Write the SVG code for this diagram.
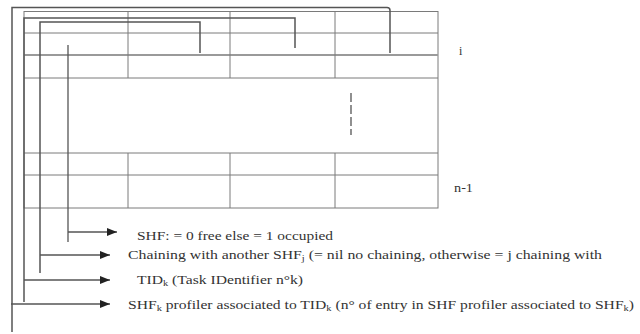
<svg xmlns="http://www.w3.org/2000/svg" width="640" height="334" viewBox="0 0 640 334">
<style>
.grid{stroke:#7a7a7a;stroke-width:1;fill:none}
.dbl{stroke:#9a9a9a;stroke-width:2.2;fill:none}
.br{stroke:#555;stroke-width:1.5;fill:none}
.ln{stroke:#555;stroke-width:1.3;fill:none}
.t{font-family:"Liberation Serif","Times New Roman",serif;font-size:12px;fill:#333}
.s{font-size:8px}
</style>
<defs>
<marker id="ah" viewBox="0 0 10 8" refX="10" refY="4" markerWidth="10" markerHeight="8" markerUnits="userSpaceOnUse" orient="auto">
<path d="M0,0 L10,4 L0,8 Z" fill="#222"/>
</marker>
</defs>
<rect width="640" height="334" fill="#fff"/>
<g id="table">
<rect class="grid" x="24" y="11.5" width="414" height="196.5"/>
<line class="grid" x1="24" y1="33" x2="438" y2="33"/>
<line class="dbl" x1="24" y1="55" x2="438" y2="55"/>
<line class="grid" x1="24" y1="78" x2="438" y2="78"/>
<line class="grid" x1="24" y1="153" x2="438" y2="153"/>
<line class="grid" x1="24" y1="175" x2="438" y2="175"/>
<line class="grid" x1="128" y1="11.5" x2="128" y2="78"/>
<line class="grid" x1="230" y1="11.5" x2="230" y2="78"/>
<line class="grid" x1="335" y1="11.5" x2="335" y2="78"/>
<line class="grid" x1="128" y1="153" x2="128" y2="208"/>
<line class="grid" x1="230" y1="153" x2="230" y2="208"/>
<line class="grid" x1="335" y1="153" x2="335" y2="208"/>
<line x1="351" y1="93" x2="351" y2="135" stroke="#555" stroke-width="1.3" stroke-dasharray="9,3"/>
</g>
<g id="row-labels">
<text class="t" x="459" y="55">i</text>
<text class="t" x="454" y="192" textLength="19" lengthAdjust="spacingAndGlyphs">n-1</text>
</g>
<g id="connectors">
<path class="br" d="M12,332 V7.5 H387 Q390,7.5 390,10.5 V53"/>
<path class="br" d="M24,302 V18 H295 V48"/>
<path class="br" d="M40,273 V22 H200 V53"/>
<path class="ln" d="M68,45 V242"/>
<line class="ln" x1="68" y1="232" x2="117" y2="232" marker-end="url(#ah)"/>
<line class="ln" x1="40" y1="255" x2="110" y2="255" marker-end="url(#ah)"/>
<line class="ln" x1="24" y1="280" x2="110" y2="280" marker-end="url(#ah)"/>
<line class="ln" x1="11" y1="304" x2="110" y2="304" marker-end="url(#ah)"/>
</g>
<g id="field-labels">
<text class="t" x="137" y="240" textLength="196" lengthAdjust="spacingAndGlyphs">SHF: = 0 free else = 1 occupied</text>
<text class="t" x="128" y="259" textLength="474" lengthAdjust="spacingAndGlyphs">Chaining with another SHF<tspan class="s" dy="2">j</tspan><tspan dy="-2"> (= nil no chaining, otherwise = j chaining with</tspan></text>
<text class="t" x="137" y="284" textLength="166" lengthAdjust="spacingAndGlyphs">TID<tspan class="s" dy="2">k</tspan><tspan dy="-2"> (Task IDentifier n°k)</tspan></text>
<text class="t" x="128" y="309" textLength="506" lengthAdjust="spacingAndGlyphs">SHF<tspan class="s" dy="2">k</tspan><tspan dy="-2"> profiler associated to TID</tspan><tspan class="s" dy="2">k</tspan><tspan dy="-2"> (n° of entry in SHF profiler associated to SHF</tspan><tspan class="s" dy="2">k</tspan><tspan dy="-2">)</tspan></text>
</g>
</svg>
